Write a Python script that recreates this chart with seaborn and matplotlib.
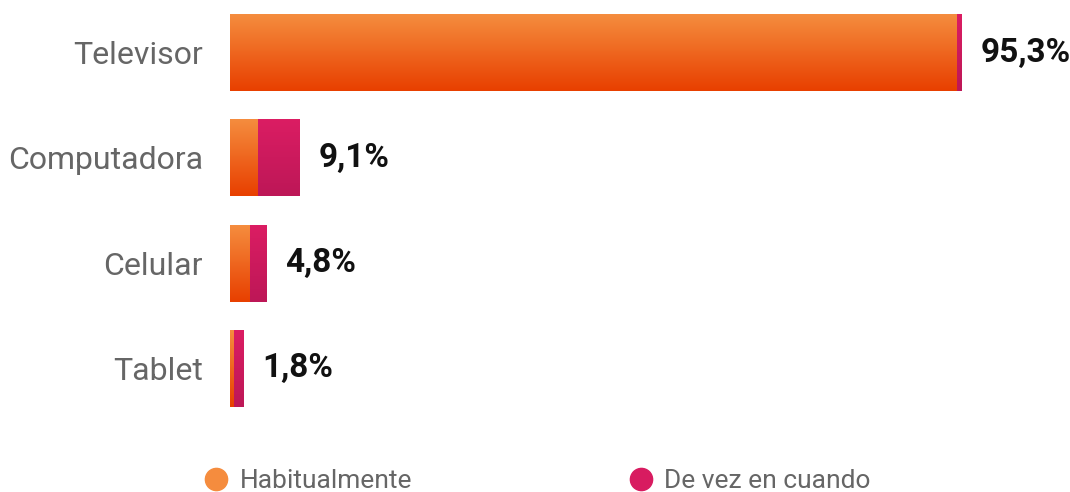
import numpy as np
import pandas as pd
import matplotlib.pyplot as plt
from matplotlib.lines import Line2D
import seaborn as sns

# Data
categories = ["Televisor", "Computadora", "Celular", "Tablet"]
habitual = [94.6, 3.6, 2.5, 0.4]
de_vez = [0.7, 5.5, 2.3, 1.4]
totals = [95.3, 9.1, 4.8, 1.8]

df = pd.DataFrame({"cat": categories, "hab": habitual, "vez": de_vez, "total": totals})

sns.set_style("white")
plt.rcParams["font.family"] = ["Roboto", "DejaVu Sans"]

ORANGE = ("#f58c3e", "#e84000")   # top, bottom
MAGENTA = ("#db1d63", "#bd1757")

fig = plt.figure(figsize=(10.7, 4.92), dpi=100)
ax = fig.add_axes([230 / 1070, 71 / 492, 840 / 1070, 421 / 492])

# stacked: full total first, habitual drawn over it
sns.barplot(data=df, x="total", y="cat", orient="h", color=MAGENTA[0], width=0.73, ax=ax)
n_tot = len(ax.patches)
sns.barplot(data=df, x="hab", y="cat", orient="h", color=ORANGE[0], width=0.73, ax=ax)


def gradient(patch, cols, z):
    top = np.array(plt.matplotlib.colors.to_rgb(cols[0]))
    bot = np.array(plt.matplotlib.colors.to_rgb(cols[1]))
    t = np.linspace(0, 1, 64)[:, None, None]
    img = top * (1 - t) + bot * t
    x0, y0 = patch.get_x(), patch.get_y()
    w, h = patch.get_width(), patch.get_height()
    ax.imshow(img, extent=(x0, x0 + w, y0 + h, y0), origin="upper",
              aspect="auto", zorder=z, interpolation="bilinear")
    patch.set_visible(False)


for i, p in enumerate(list(ax.patches)):
    if i < n_tot:
        gradient(p, MAGENTA, 2)
    else:
        gradient(p, ORANGE, 3)

for i, v in enumerate(totals):
    ax.text(v + 2.4, i, f"{v:.1f}".replace(".", ",") + "%", va="center", ha="left",
            fontsize=24, fontweight="bold", color="#111111")

ax.set_xlim(0, 109.4)
ax.set_ylim(3.5, -0.5)
ax.set_xlabel("")
ax.set_ylabel("")
ax.set_xticks([])
ax.tick_params(axis="y", length=0, pad=19.5, labelsize=23, labelcolor="#666666")
for s in ax.spines.values():
    s.set_visible(False)

handles = [
    Line2D([], [], marker="o", linestyle="none", markersize=16, color="#f58c3e"),
    Line2D([], [], marker="o", linestyle="none", markersize=16, color="#d81b60"),
]
fig.legend(handles, ["Habitualmente", "De vez en cuando"], loc="center left",
           bbox_to_anchor=(203 / 1070, 1 - 481 / 492), ncol=2, frameon=False,
           fontsize=19, labelcolor="#666666", handlelength=1.0, handletextpad=0.4,
           columnspacing=8.15, borderpad=0, borderaxespad=0)

fig.savefig("out.png", dpi=100)
